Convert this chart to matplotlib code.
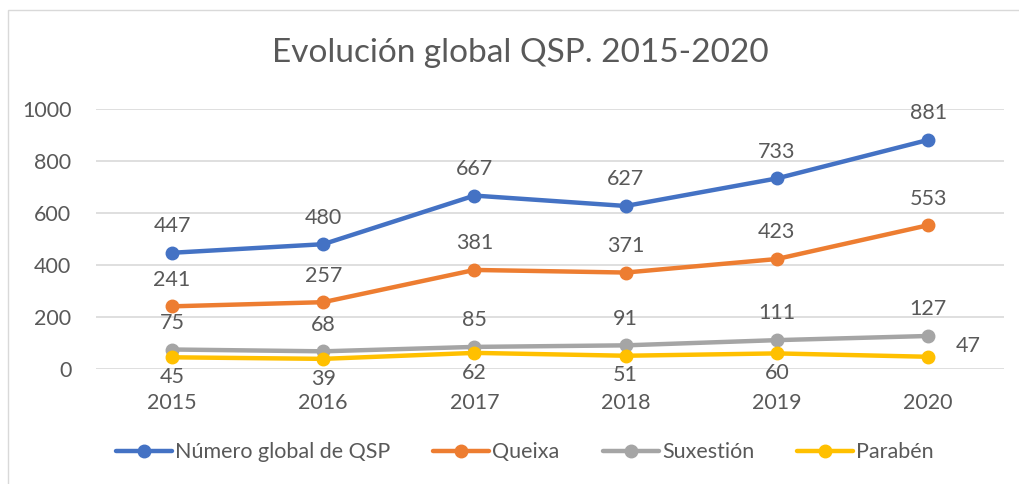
import matplotlib
matplotlib.use("Agg")
from matplotlib import pyplot as plt

years = ["2015", "2016", "2017", "2018", "2019", "2020"]
total = [447, 480, 667, 627, 733, 881]
queixa = [241, 257, 381, 371, 423, 553]
suxestion = [75, 68, 85, 91, 111, 127]
paraben = [45, 39, 62, 51, 60, 47]

plt.rcParams["font.family"] = ["Lato", "DejaVu Sans"]
text_color = "#595959"
fontsize = 15.5

fig = plt.figure(figsize=(10.19, 4.84), dpi=100)
ax = fig.add_axes([0.0946, 0.2376, 0.8904, 0.5372])

x = list(range(len(years)))
series = [
    ("Número global de QSP", total, "#4472C4"),
    ("Queixa", queixa, "#ED7D31"),
    ("Suxestión", suxestion, "#A5A5A5"),
    ("Parabén", paraben, "#FFC000"),
]
for label, vals, color in series:
    ax.plot(x, vals, color=color, linewidth=3.2, marker="o", markersize=9,
            label=label, solid_capstyle="round", zorder=3)

# data labels
for vals in (total, queixa, suxestion):
    for xi, v in zip(x, vals):
        ax.annotate(str(v), (xi, v), xytext=(0, 12), textcoords="offset points",
                    ha="center", va="bottom", fontsize=fontsize, color=text_color)
for xi, v in zip(x, paraben):
    if xi == len(x) - 1:
        ax.annotate(str(v), (xi, v), xytext=(20, 8), textcoords="offset points",
                    ha="left", va="center", fontsize=fontsize, color=text_color)
    else:
        ax.annotate(str(v), (xi, v), xytext=(0, -7), textcoords="offset points",
                    ha="center", va="top", fontsize=fontsize, color=text_color)

ax.set_xlim(-0.5, len(x) - 0.5)
ax.set_ylim(0, 1000)
ax.set_yticks(range(0, 1001, 200))
ax.set_xticks(x)
ax.set_xticklabels(years)
ax.grid(axis="y", color="#D9D9D9", linewidth=1.2, zorder=0)
ax.set_axisbelow(True)
for s in ax.spines.values():
    s.set_visible(False)
ax.tick_params(length=0, labelsize=fontsize, colors=text_color)
ax.tick_params(axis="x", pad=17)
ax.tick_params(axis="y", pad=18)

fig.text(0.511, 0.89, "Evolución global QSP. 2015-2020", ha="center", va="center",
         fontsize=24, color=text_color)

ax.legend(loc="center", bbox_to_anchor=(0.515, 0.066), bbox_transform=fig.transFigure,
          ncol=4, frameon=False, fontsize=fontsize, labelcolor=text_color,
          handlelength=2.6, handletextpad=0.15, columnspacing=2.0)

# chart border
fig.patches.append(plt.Rectangle((8 / 1019, -0.1), 1.2, 1 - 10 / 484 + 0.1,
                                 transform=fig.transFigure, fill=False,
                                 edgecolor="#D9D9D9", linewidth=1))

fig.savefig("out.png", dpi=100)
